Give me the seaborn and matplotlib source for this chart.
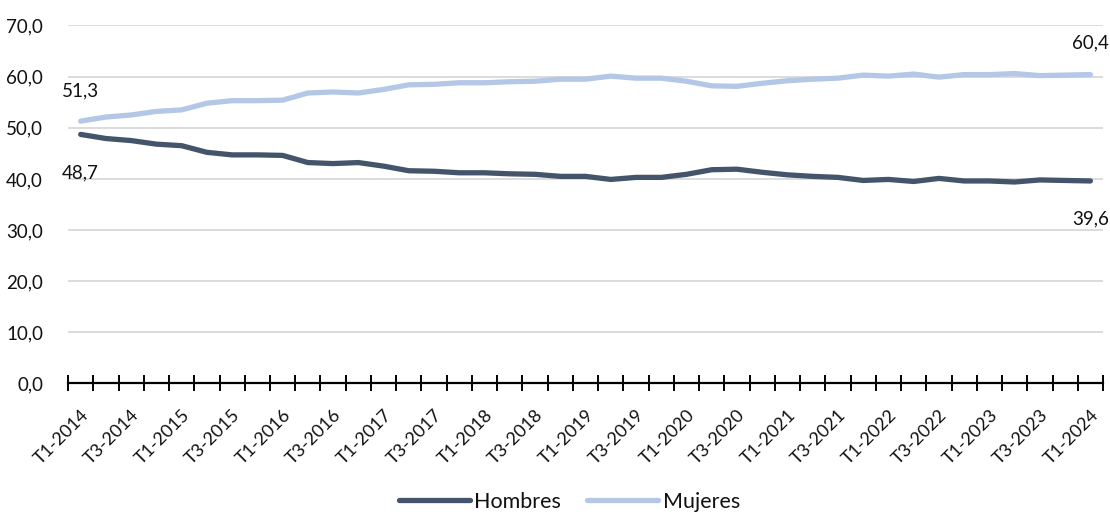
import numpy as np
import pandas as pd
import matplotlib
matplotlib.use("Agg")
import matplotlib.pyplot as plt
from matplotlib.ticker import FixedLocator, MultipleLocator
import seaborn as sns

# Quarterly shares (%) by sex, T1-2014 .. T1-2024
years = list(range(2014, 2025))
quarters = [f"T{q}-{y}" for y in years for q in (1, 2, 3, 4)][:41]

hombres = [48.7, 47.9, 47.5, 46.8, 46.5, 45.2, 44.7, 44.7, 44.6, 43.2,
           43.0, 43.2, 42.5, 41.6, 41.5, 41.2, 41.2, 41.0, 40.9, 40.5,
           40.5, 39.9, 40.3, 40.3, 40.9, 41.8, 41.9, 41.3, 40.8, 40.5,
           40.3, 39.7, 39.9, 39.5, 40.1, 39.6, 39.6, 39.4, 39.8, 39.7, 39.6]
mujeres = [51.3, 52.1, 52.5, 53.2, 53.5, 54.8, 55.3, 55.3, 55.4, 56.8,
           57.0, 56.8, 57.5, 58.4, 58.5, 58.8, 58.8, 59.0, 59.1, 59.5,
           59.5, 60.1, 59.7, 59.7, 59.1, 58.2, 58.1, 58.7, 59.2, 59.5,
           59.7, 60.3, 60.1, 60.5, 59.9, 60.4, 60.4, 60.6, 60.2, 60.3, 60.4]

series_names = ["Hombres", "Mujeres"]
colors = {"Hombres": "#44546A", "Mujeres": "#B4C7E7"}

df = pd.DataFrame({
    "pos": list(range(len(quarters))) * 2,
    "trimestre": quarters * 2,
    "valor": hombres + mujeres,
    "sexo": ["Hombres"] * len(quarters) + ["Mujeres"] * len(quarters),
})

sns.set_theme(style="white")
plt.rcParams["font.family"] = ["Lato", "DejaVu Sans"]

TXT = "#111111"
FS = 13.5

fig = plt.figure(figsize=(11.10, 5.14), dpi=100)
ax = fig.add_axes([0.0613, 0.2539, 0.9324, 0.6965])

sns.lineplot(data=df, x="pos", y="valor", hue="sexo", hue_order=series_names,
             palette=colors, linewidth=3.8, ax=ax, legend=False,
             solid_capstyle="round", solid_joinstyle="round")

n = len(quarters)
ax.set_xlim(-0.5, n - 0.5)
ax.set_ylim(0, 70)
ax.yaxis.set_major_locator(MultipleLocator(10))
ax.set_yticklabels([f"{v:.1f}".replace(".", ",") for v in ax.get_yticks()])

# Gridlines for y, category boundary ticks crossing the x axis
ax.grid(axis="y", color="#D9D9D9", linewidth=1.3)
ax.grid(axis="x", visible=False)
ax.set_axisbelow(True)
for side in ("top", "right", "left"):
    ax.spines[side].set_visible(False)
ax.spines["bottom"].set_color("black")
ax.spines["bottom"].set_linewidth(1.6)

label_pos = list(range(0, n, 2))
ax.xaxis.set_major_locator(FixedLocator(label_pos))
ax.set_xticklabels([quarters[i] for i in label_pos], rotation=45, ha="right",
                   rotation_mode="anchor", fontsize=13, color=TXT)
ax.xaxis.set_minor_locator(FixedLocator(np.arange(-0.5, n, 1.0)))
ax.tick_params(axis="x", which="major", length=0, pad=17)
ax.tick_params(axis="x", which="minor", direction="inout", length=12,
               width=1.4, color="black", bottom=True)
ax.tick_params(axis="y", length=0, pad=18, labelsize=FS, labelcolor=TXT)
ax.set_xlabel("")
ax.set_ylabel("")

def fmt(v):
    return f"{v:.1f}".replace(".", ",")

# Start and end value labels
ax.annotate(fmt(mujeres[0]), (0, mujeres[0]), xytext=(0, 22), textcoords="offset points",
            ha="center", va="center", fontsize=FS, color=TXT)
ax.annotate(fmt(hombres[0]), (0, hombres[0]), xytext=(0, -28), textcoords="offset points",
            ha="center", va="center", fontsize=FS, color=TXT)
ax.annotate(fmt(mujeres[-1]), (n - 1, mujeres[-1]), xytext=(0, 23), textcoords="offset points",
            ha="center", va="center", fontsize=FS, color=TXT, annotation_clip=False)
ax.annotate(fmt(hombres[-1]), (n - 1, hombres[-1]), xytext=(0, -27), textcoords="offset points",
            ha="center", va="center", fontsize=FS, color=TXT, annotation_clip=False)

handles = [plt.Line2D([], [], color=colors[s], linewidth=3.8) for s in series_names]
fig.legend(handles, series_names, loc="center", bbox_to_anchor=(0.513, 0.024), ncol=2,
           frameon=False, fontsize=15.5, handlelength=3.3, handletextpad=0.2,
           columnspacing=1.2, labelcolor=TXT)

fig.savefig("out.png", dpi=100)
